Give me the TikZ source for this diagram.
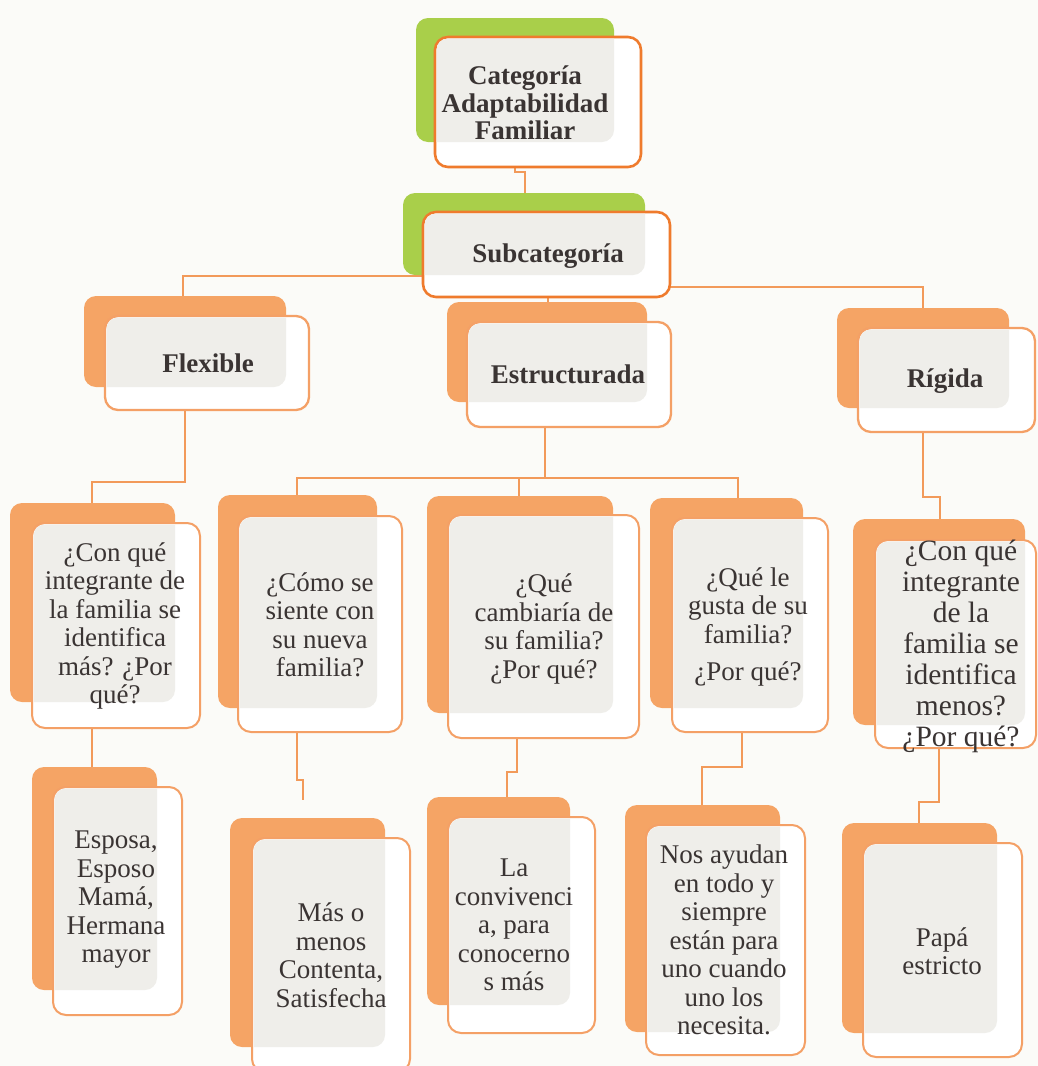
\documentclass[tikz,border=0pt]{standalone}
\usepackage{fontspec}
\setmainfont{Liberation Serif}
\usetikzlibrary{calc}
\definecolor{bgc}{HTML}{FBFBF8}
\definecolor{grn}{HTML}{A9CF4A}
\definecolor{orb}{HTML}{F5A465}
\definecolor{ortop}{HTML}{EF7B2D}
\definecolor{orlow}{HTML}{F4A066}
\definecolor{connc}{HTML}{F29A5A}
\definecolor{ovl}{HTML}{EFEEEA}
\definecolor{txtc}{HTML}{3A3433}
\pgfdeclarelayer{bg}
\pgfsetlayers{bg,main}
\tikzset{
  backbox/.style={rounded corners=12pt, inner sep=0pt, outer sep=0pt, draw=none},
  frontbox/.style={rounded corners=13pt, inner sep=0pt, outer sep=0pt, fill=white},
  conn/.style={draw=connc, line width=2pt},
  txt/.style={align=center, text=txtc, font=\fontsize{27}{28.5}\selectfont, inner sep=0pt},
  bigtxt/.style={align=center, text=txtc, font=\fontsize{29.5}{31}\selectfont, inner sep=0pt},
  hdr/.style={align=center, text=txtc, font=\bfseries\fontsize{27}{27.5}\selectfont, inner sep=0pt},
  curback/.style={fill=orb},
  curborder/.style={draw=orlow, line width=2pt}
}
\newcommand\twobox[9]{%
  \node[backbox, curback, minimum width={#4-#2}, minimum height={#5-#3}] (#1B) at ({(#2+#4)/2},{(#3+#5)/2}) {};
  \node[frontbox, curborder, minimum width={#8-#6}, minimum height={#9-#7}] (#1F) at ({(#6+#8)/2},{(#7+#9)/2}) {};
  \begin{scope}
    \clip[rounded corners=12pt] (#2,#3) rectangle (#4,#5);
    \fill[ovl, rounded corners=11pt] ({#6+1.6},{#7+1.6}) rectangle ({#8-1.6},{#9-1.6});
  \end{scope}
}
\begin{document}
\begin{tikzpicture}[x=1pt, y=-1pt]
\useasboundingbox (0,0) rectangle (1038,1066);

% ---- top level (green) ----
\tikzset{curback/.style={fill=grn}, curborder/.style={draw=ortop, line width=2.6pt}}
\twobox{cat}{416}{18}{614}{142}{435}{37}{641}{167}
\node[hdr] (catT) at (525,103) {Categoría\\Adaptabilidad\\Familiar};
\twobox{sub}{403}{193}{645}{275}{423}{212}{670}{297}
\node[hdr] (subT) at (548,256) {Subcategoría};

% ---- second level ----
\tikzset{curback/.style={fill=orb}, curborder/.style={draw=orlow, line width=2.3pt}}
\twobox{flex}{84}{296}{286}{387}{105}{316}{309}{410}
\node[hdr] (flexT) at (208,363) {Flexible};
\twobox{est}{447}{302}{647}{402}{467}{322}{671}{427}
\node[hdr] (estT) at (568,374) {Estructurada};
\twobox{rig}{837}{308}{1009}{408}{858}{328}{1035}{432}
\node[hdr] (rigT) at (945,381) {Rígida};

% ---- questions ----
\tikzset{curborder/.style={draw=orlow, line width=2pt}}
\twobox{qa}{10}{503}{175}{702}{32}{523}{200}{728}
\node[txt] (qaT) at (115,626) {¿Con qué\\integrante de\\la familia se\\identifica\\más? ¿Por\\qué?};
\twobox{qb}{218}{495}{377}{708}{238}{516}{402}{732}
\node[txt] (qbT) at (320,625) {¿Cómo se\\siente con\\su nueva\\familia?};
\twobox{qc}{427}{496}{613}{713}{448}{515}{639}{738}
\node[txt] (qcT) at (544,629) {¿Qué\\cambiaría de\\su familia?\\¿Por qué?};
\twobox{qd}{650}{498}{803}{708}{672}{518}{828}{732}
\node[txt] (qdT) at (748,627) {¿Qué le\\gusta de su\\familia?\\[9pt]¿Por qué?};
\twobox{qe}{853}{519}{1025}{725}{875}{540}{1036}{748}
\node[bigtxt] (qeT) at (961,646) {¿Con qué\\integrante\\de la\\familia se\\identifica\\menos?\\¿Por qué?};

% ---- answers ----
\twobox{aa}{32}{767}{157}{990}{53}{787}{182}{1015}
\node[txt] (aaT) at (116,900) {Esposa,\\Esposo\\Mamá,\\Hermana\\mayor};
\twobox{ab}{230}{818}{385}{1047}{252}{838}{410}{1072}
\node[txt] (abT) at (331,955) {Más o\\menos\\Contenta,\\Satisfecha};
\twobox{ac}{427}{797}{570}{1005}{448}{817}{595}{1033}
\node[txt] (acT) at (514,925) {La\\convivenci\\a, para\\conocerno\\s más};
\twobox{ad}{625}{805}{780}{1032}{646}{825}{805}{1055}
\node[txt] (adT) at (724,940) {Nos ayudan\\en todo y\\siempre\\están para\\uno cuando\\uno los\\necesita.};
\twobox{ae}{842}{823}{997}{1033}{863}{843}{1022}{1057}
\node[txt] (aeT) at (942,951) {Papá\\estricto};

% ---- connectors (behind boxes) ----
\begin{pgfonlayer}{bg}
\fill[bgc] (0,0) rectangle (1038,1066);
\draw[conn] (catF.south -| 515,0) -- (515,172) -- (525,172) -- (subB.north -| 525,0);
\draw[conn] (subF.west |- 0,276) -- (183,276) -- (flexB.north -| 183,0);
\draw[conn] (subF.east |- 0,287) -- (923,287) -- (rigB.north -| 923,0);
\draw[conn] (subF.south -| 548,0) -- (estB.north -| 548,0);
\draw[conn] (flexF.south -| 185,0) -- (185,482) -- (92,482) -- (qaB.north -| 92,0);
\coordinate (jE) at (545,478);
\draw[conn] (estF.south -| 545,0) -- (jE);
\draw[conn] (qbB.north -| 297,0) -- (297,478) -- (738,478) -- (qdB.north -| 738,0);
\draw[conn] (jE -| 519,0) -- (qcB.north -| 519,0);
\draw[conn] (rigF.south -| 923,0) -- (923,497) -- (940,497) -- (qeB.north -| 940,0);
\draw[conn] (qaF.south -| 92,0) -- (aaB.north -| 92,0);
\draw[conn] (qbF.south -| 297,0) -- (297,780) -- (303,780) -- (303,800);
\draw[conn] (qcF.south -| 517,0) -- (517,772) -- (507,772) -- (acB.north -| 507,0);
\draw[conn] (qdF.south -| 742,0) -- (742,767) -- (702,767) -- (adB.north -| 702,0);
\draw[conn] (qeF.south -| 939,0) -- (939,802) -- (919,802) -- (aeB.north -| 919,0);
\end{pgfonlayer}
\end{tikzpicture}
\end{document}
